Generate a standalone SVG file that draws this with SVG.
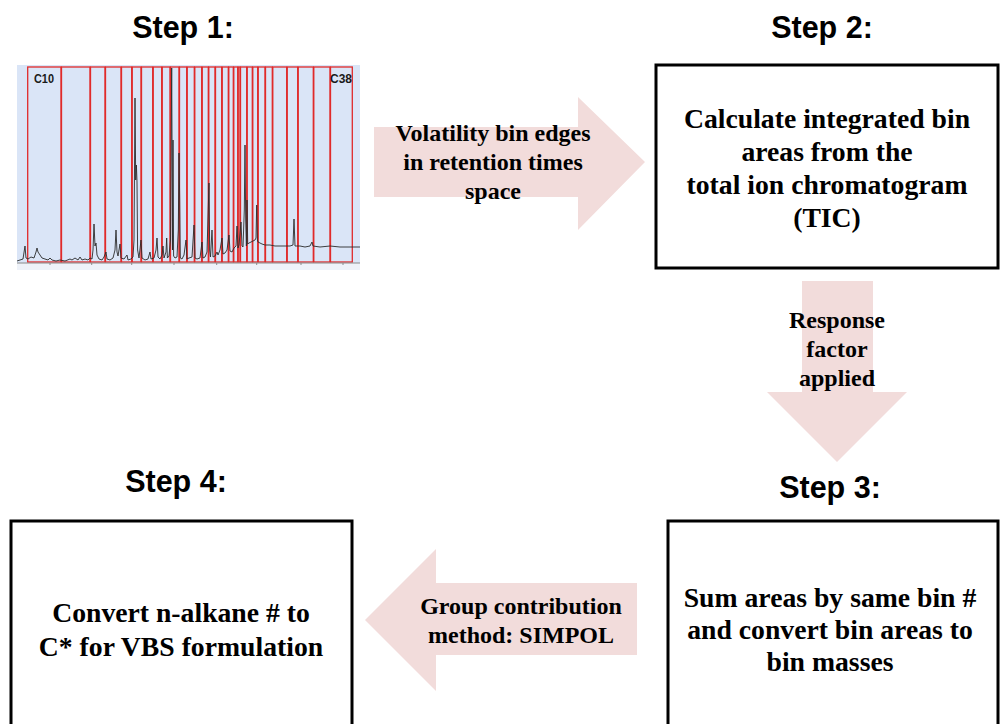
<svg xmlns="http://www.w3.org/2000/svg" width="1000" height="724" viewBox="0 0 1000 724">
<style>
.step{font-family:"Liberation Sans",Arial,sans-serif;font-weight:bold;font-size:30.5px;fill:#000;text-anchor:middle}
.box{fill:#fff;stroke:#000;stroke-width:3}
.bt{font-family:"Liberation Serif","Times New Roman",serif;font-weight:bold;font-size:27.7px;fill:#000;text-anchor:middle}
.at{font-family:"Liberation Serif","Times New Roman",serif;font-weight:bold;font-size:24px;fill:#000;text-anchor:middle}
.arr{fill:#f2dcdb}
.bin{fill:none;stroke:#e02a2a;stroke-width:1.3}
.lbl{font-family:"Liberation Sans",Arial,sans-serif;font-weight:bold;font-size:13px;fill:#1a1a1a}
</style>
<rect width="1000" height="724" fill="#fff"/>

<g id="step1">
<text class="step" x="183" y="38">Step 1:</text>
<rect x="17" y="65" width="343" height="198" fill="#dae5f7"/>
<rect x="17" y="263" width="343" height="7" fill="#eef2f9"/>
<g id="bins">
<rect class="bin" x="27.7" y="67" width="33.3" height="195"/>
<rect class="bin" x="61.5" y="67" width="28.5" height="195"/>
<rect class="bin" x="90.5" y="67" width="14.5" height="195"/>
<rect class="bin" x="105.5" y="67" width="15.5" height="195"/>
<rect class="bin" x="121.5" y="67" width="10.2" height="195"/>
<rect class="bin" x="132.2" y="67" width="8.8" height="195"/>
<rect class="bin" x="141.5" y="67" width="11.2" height="195"/>
<rect class="bin" x="153.2" y="67" width="8.5" height="195"/>
<rect class="bin" x="162.2" y="67" width="7.8" height="195"/>
<rect class="bin" x="170.5" y="67" width="8.5" height="195"/>
<rect class="bin" x="179.5" y="67" width="7.2" height="195"/>
<rect class="bin" x="187.2" y="67" width="7.1" height="195"/>
<rect class="bin" x="194.8" y="67" width="6.9" height="195"/>
<rect class="bin" x="202.2" y="67" width="6.1" height="195"/>
<rect class="bin" x="208.8" y="67" width="6.2" height="195"/>
<rect class="bin" x="215.5" y="67" width="6.2" height="195"/>
<rect class="bin" x="222.2" y="67" width="6.1" height="195"/>
<rect class="bin" x="228.8" y="67" width="4.5" height="195"/>
<rect class="bin" x="233.8" y="67" width="3.9" height="195"/>
<rect class="bin" x="238.2" y="67" width="1.8" height="195"/>
<rect class="bin" x="240.5" y="67" width="6.2" height="195"/>
<rect class="bin" x="247.2" y="67" width="5.1" height="195"/>
<rect class="bin" x="252.8" y="67" width="4.9" height="195"/>
<rect class="bin" x="258.2" y="67" width="6.8" height="195"/>
<rect class="bin" x="265.5" y="67" width="6.8" height="195"/>
<rect class="bin" x="272.8" y="67" width="13.9" height="195"/>
<rect class="bin" x="287.2" y="67" width="10.5" height="195"/>
<rect class="bin" x="298.2" y="67" width="15.1" height="195"/>
<rect class="bin" x="313.8" y="67" width="16.2" height="195"/>
<rect class="bin" x="330.5" y="67" width="21.8" height="195"/>
</g>
<path fill="none" stroke="#2b2b2b" stroke-width="0.9" stroke-linejoin="round" d="M17,261 L20,260 23,259 25,246 26,258 28,259 31,257 34,258 36,252 37,248 38,252 40,255 42,258 45,259 48,260 50,258 52,260 56,261 60,260 65,261 70,259 72,260 75,258 78,260 80,257 82,260 85,259 88,260 90,258 92,259 93,250 94,224 95,246 96,243 97,255 99,259 102,260 104,257 106,252 107,259 110,260 113,258 115,250 116,230 117,252 118,256 120,244 121,258 124,259 127,255 128,260 131,259 133,257 134,240 135,98 135.7,180 136.4,165 137,182 137.6,250 139,258 141,240 142,258 145,260 148,259 150,252 151,259 154,258 156,250 157,238 158,257 160,259 162,255 163,246 164,258 166,252 166.7,238 167.4,258 169,256 170.5,240 171.7,68 172.5,250 173,140 173.6,256 175,258 177,257 178.3,230 179,153 179.7,200 180.3,258 182,259 184,255 186,240 187,259 189,258 192,257 194,225 195,258 197,259 200,258 202,242 203,258 205,257 207,252 209,183 209.7,250 210.5,257 212,230 213,257 215,256 217,252 218,255 220,250 222,238 223,254 225,253 227,250 229,235 230,251 232,252 234,248 236,246 237,226 238,248 239,245 241,222 242,246 243,247 244.3,210 245,145 245.7,220 246.4,246 247,200 247.7,244 249,243 251,242 253,241 255,240 256,238 256.7,205 257.4,240 258,242 260,243 262,244 265,245 270,245 275,246 280,246 285,246 290,246 293,245 294,219 295,246 300,246 305,247 310,246 312,242 313,246 320,247 330,246 340,247 350,247 360,247"/>
<line x1="17" y1="263" x2="360" y2="263" stroke="#8a8a8a" stroke-width="1"/>
<g stroke="#8a8a8a" stroke-width="1">
<line x1="50" y1="263" x2="50" y2="265"/><line x1="91.7" y1="263" x2="91.7" y2="265"/><line x1="131.7" y1="263" x2="131.7" y2="265"/><line x1="174" y1="263" x2="174" y2="265"/><line x1="216.7" y1="263" x2="216.7" y2="265"/><line x1="256.7" y1="263" x2="256.7" y2="265"/><line x1="301" y1="263" x2="301" y2="265"/><line x1="343" y1="263" x2="343" y2="265"/>
</g>
<text class="lbl" x="34" y="83" textLength="20" lengthAdjust="spacingAndGlyphs">C10</text>
<text class="lbl" x="330" y="83" textLength="22" lengthAdjust="spacingAndGlyphs">C38</text>
</g>

<g id="connectors">
<g id="arrow-1-2">
<polygon class="arr" points="374,127 578,127 578,97 645,162 578,230 578,197 374,197"/>
<text class="at" x="493" y="141">Volatility bin edges</text>
<text class="at" x="493" y="170">in retention times</text>
<text class="at" x="493" y="199">space</text>
</g>
<g id="arrow-2-3">
<polygon class="arr" points="802,281 873,281 873,392 907,392 837,462 767,392 802,392"/>
<text class="at" x="837" y="328">Response</text>
<text class="at" x="837" y="357">factor</text>
<text class="at" x="837" y="386">applied</text>
</g>
<g id="arrow-3-4">
<polygon class="arr" points="637,583 436,583 436,549 365,620 436,691 436,655 637,655"/>
<text class="at" x="521" y="614">Group contribution</text>
<text class="at" x="521" y="643">method: SIMPOL</text>
</g>
</g>

<g id="step2">
<text class="step" x="822" y="38">Step 2:</text>
<rect class="box" x="656" y="65" width="342" height="203"/>
<text class="bt" x="827" y="128">Calculate integrated bin</text>
<text class="bt" x="827" y="161">areas from the</text>
<text class="bt" x="827" y="194">total ion chromatogram</text>
<text class="bt" x="827" y="227">(TIC)</text>
</g>

<g id="step3">
<text class="step" x="830" y="498">Step 3:</text>
<rect class="box" x="668" y="521" width="330" height="210"/>
<text class="bt" x="830" y="607">Sum areas by same bin #</text>
<text class="bt" x="830" y="639">and convert bin areas to</text>
<text class="bt" x="830" y="671">bin masses</text>
</g>

<g id="step4">
<text class="step" x="176" y="492">Step 4:</text>
<rect class="box" x="11" y="521" width="341" height="210"/>
<text class="bt" x="181" y="622">Convert n-alkane # to</text>
<text class="bt" x="181" y="656">C* for VBS formulation</text>
</g>
</svg>
